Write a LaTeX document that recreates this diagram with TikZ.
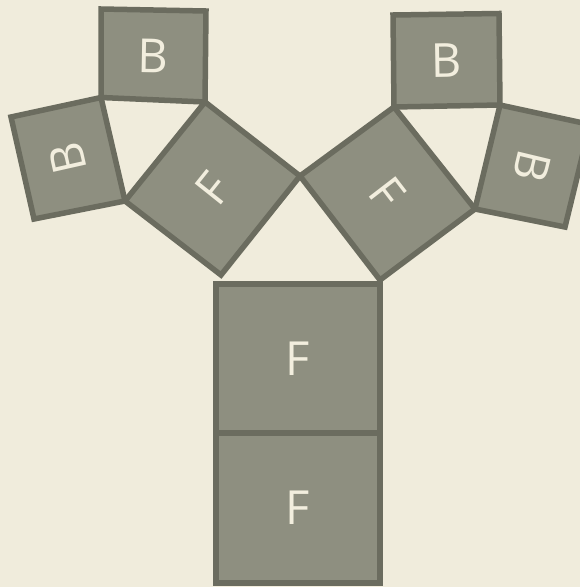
\documentclass[tikz,border=0pt]{standalone}
\usepackage{fontspec}
\setmainfont{Open Sans}
\definecolor{bgc}{RGB}{240,236,220}
\definecolor{boxfill}{RGB}{142,143,128}
\definecolor{boxline}{RGB}{107,108,95}
\definecolor{txt}{RGB}{242,238,222}
\tikzset{
  sq/.style={fill=boxfill, draw=boxline, line width=5.5pt, line join=miter},
  lbl/.style={text=txt, font=\fontsize{47}{50}\selectfont, inner sep=0pt}
}
\begin{document}
\begin{tikzpicture}[x=1pt, y=-1pt]
\fill[bgc] (0,0) rectangle (580,587);
\useasboundingbox (0,0) rectangle (580,587);
\begin{scope}
\clip (0,0) rectangle (580,587);
% trunk
\draw[sq] (216,433) rectangle (380,583);
\draw[sq] (216,284) rectangle (380,433);
% left F
\draw[sq] (205,102) -- (300,176) -- (221,275) -- (125,201) -- cycle;
% right F
\draw[sq] (394,107) -- (475,209) -- (380,280) -- (300,176) -- cycle;
% top-left B
\draw[sq] (101,9) -- (206,11) -- (205,102) -- (101,97.5) -- cycle;
% left B
\draw[sq] (11,117) -- (101,97.5) -- (125,201) -- (34,219) -- cycle;
% top-right B
\draw[sq] (393,15) -- (499,13.5) -- (500,105) -- (394,107) -- cycle;
% right B
\draw[sq] (500,105) -- (590,124.5) -- (565,227) -- (475,209) -- cycle;
\end{scope}
\node[lbl] (f1) at (298,508) {F};
\node[lbl] (f2) at (298,358.5) {F};
\node[lbl, rotate=51.4] (f3) at (212.75,188.5) {F};
\node[lbl, rotate=-52.4] (f4) at (387.25,193) {F};
\node[lbl, rotate=-1] (b1) at (153.25,55.5) {B};
\node[lbl, rotate=102.7] (b2) at (67.75,158.6) {B};
\node[lbl, rotate=1] (b3) at (446.5,60.5) {B};
\node[lbl, rotate=-103.5] (b4) at (532.5,166.4) {B};
\end{tikzpicture}
\end{document}
